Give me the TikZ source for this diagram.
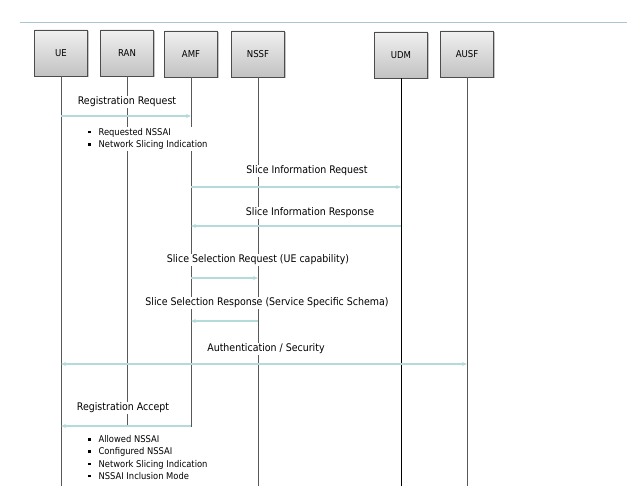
\documentclass[tikz,border=0pt]{standalone}
\usepackage{fontspec}
\setmainfont{DejaVu Sans Condensed}
\usetikzlibrary{shadows,arrows.meta}
\definecolor{arr}{RGB}{180,218,220}
\definecolor{topline}{RGB}{170,196,212}
\newcommand{\sqb}{\raisebox{2pt}{\rule{2.4pt}{2.4pt}}\hspace{8pt}}
\begin{document}
\begin{tikzpicture}[x=1pt,y=-1pt,
 ent/.style={draw=black!70, top color=black!6, bottom color=black!24, minimum width=53pt, minimum height=46pt, inner sep=0pt, drop shadow={shadow xshift=1.5pt, shadow yshift=-1.5pt, fill=black!45}, font=\fontsize{9.5}{11}\selectfont},
 life/.style={draw=black!65, line width=0.8pt},
 msg/.style={draw=arr, line width=1.2pt, -{Stealth[length=5pt,width=4pt]}},
 lbl/.style={fill=white, inner sep=1pt, font=\fontsize{10.5}{12}\selectfont},
 bul/.style={fill=white, inner sep=1pt, font=\fontsize{9.3}{12.2}\selectfont, align=left, anchor=west}]
\useasboundingbox (0,0) rectangle (627,500);
\draw[topline, line width=0.8pt] (20,22.5) -- (627,22.5);
% entities
\node[ent] (ue)   at (61,53)  {UE};
\node[ent] (ran)  at (127,53) {RAN};
\node[ent] (amf)  at (191,54) {AMF};
\node[ent] (nssf) at (258,54) {NSSF};
\node[ent] (udm)  at (401,55) {UDM};
\node[ent] (ausf) at (467,54) {AUSF};
% lifeline ends
\coordinate (ueE)   at (61,486);
\coordinate (ranE)  at (127,427);
\coordinate (amfE)  at (191,427);
\coordinate (nssfE) at (258,486);
\coordinate (udmE)  at (401,486);
\coordinate (ausfE) at (467,486);
\draw[life] (ue.south) -- (ueE);
\draw[life] (ran.south) -- (ranE);
\draw[life] (amf.south) -- (amfE);
\draw[life] (nssf.south) -- (nssfE);
\draw[life, draw=black] (udm.south) -- (udmE);
\draw[life] (ausf.south) -- (ausfE);
% labels
\node[lbl] (l1) at (127,102) {Registration Request};
\node[bul] (b1) at (87,139) {\sqb Requested NSSAI\\ \sqb Network Slicing Indication};
\node[lbl] (l2) at (307,171) {Slice Information Request};
\node[lbl] (l3) at (310,213) {Slice Information Response};
\node[lbl] (l4) at (258,260) {Slice Selection Request (UE capability)};
\node[lbl] (l5) at (267,303) {Slice Selection Response (Service Specific Schema)};
\node[lbl] (l6) at (266,349) {Authentication / Security};
\node[lbl] (l7) at (123,408) {Registration Accept};
\node[bul] (b2) at (87,457.5) {\sqb Allowed NSSAI\\ \sqb Configured NSSAI\\ \sqb Network Slicing Indication\\ \sqb NSSAI Inclusion Mode};
% messages
\draw[msg] (ue |- 0,116) -- (amf |- 0,116);
\draw[msg] (amf |- 0,187) -- (udm |- 0,187);
\draw[msg] (udm |- 0,226) -- (amf |- 0,226);
\draw[msg] (amf |- 0,278) -- (nssf |- 0,278);
\draw[msg] (nssf |- 0,321) -- (amf |- 0,321);
\draw[msg, {Stealth[length=5pt,width=4pt]}-{Stealth[length=5pt,width=4pt]}] (ue |- 0,364) -- (ausf |- 0,364);
\draw[msg] (amf |- 0,426) -- (ue |- 0,426);
\end{tikzpicture}
\end{document}
